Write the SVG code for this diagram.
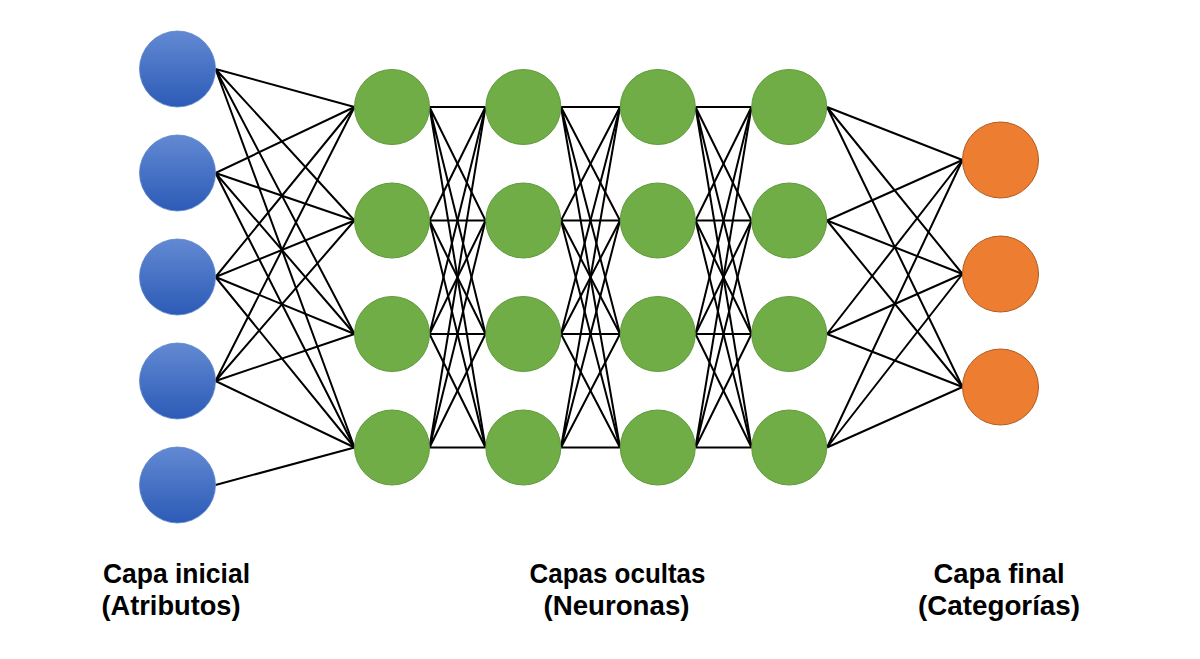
<svg xmlns="http://www.w3.org/2000/svg" width="1200" height="659" viewBox="0 0 1200 659">
<defs>
<linearGradient id="blueGrad" x1="0" y1="0" x2="0" y2="1">
<stop offset="0" stop-color="#6289d2"/>
<stop offset="1" stop-color="#2c5bb7"/>
</linearGradient>
<style>
.edge{stroke:#000;stroke-width:2;fill:none}
.in{fill:url(#blueGrad);stroke:#5b83cc;stroke-width:0.8}
.hid{fill:#70ad47;stroke:#5e9a3a;stroke-width:1}
.out{fill:#ed7d31;stroke:#ae5a21;stroke-width:1}
.lbl{font-family:"Liberation Sans",Arial,sans-serif;font-weight:bold;font-size:28px;fill:#000;text-anchor:middle}
</style>
</defs>
<rect width="1200" height="659" fill="#fff"/>
<g id="connectors">
<!-- input to hidden 1 -->
<path class="edge" d="M215.5 69L354.5 107M215.5 69L354.5 220.5M215.5 69L354.5 334M215.5 69L354.5 447.5"/>
<path class="edge" d="M215.5 173L354.5 107M215.5 173L354.5 220.5M215.5 173L354.5 334M215.5 173L354.5 447.5"/>
<path class="edge" d="M215.5 277L354.5 107M215.5 277L354.5 220.5M215.5 277L354.5 334M215.5 277L354.5 447.5"/>
<path class="edge" d="M215.5 381L354.5 107M215.5 381L354.5 220.5M215.5 381L354.5 334M215.5 381L354.5 447.5"/>
<path class="edge" d="M215.5 485L354.5 447.5"/>
<!-- hidden 1 to hidden 2 -->
<path class="edge" d="M429.5 107L485.5 107M429.5 107L485.5 220.5M429.5 107L485.5 334M429.5 107L485.5 447.5"/>
<path class="edge" d="M429.5 220.5L485.5 107M429.5 220.5L485.5 220.5M429.5 220.5L485.5 334M429.5 220.5L485.5 447.5"/>
<path class="edge" d="M429.5 334L485.5 107M429.5 334L485.5 220.5M429.5 334L485.5 334M429.5 334L485.5 447.5"/>
<path class="edge" d="M429.5 447.5L485.5 107M429.5 447.5L485.5 220.5M429.5 447.5L485.5 334M429.5 447.5L485.5 447.5"/>
<!-- hidden 2 to hidden 3 -->
<path class="edge" d="M561 107L620 107M561 107L620 220.5M561 107L620 334M561 107L620 447.5"/>
<path class="edge" d="M561 220.5L620 107M561 220.5L620 220.5M561 220.5L620 334M561 220.5L620 447.5"/>
<path class="edge" d="M561 334L620 107M561 334L620 220.5M561 334L620 334M561 334L620 447.5"/>
<path class="edge" d="M561 447.5L620 107M561 447.5L620 220.5M561 447.5L620 334M561 447.5L620 447.5"/>
<!-- hidden 3 to hidden 4 -->
<path class="edge" d="M695.5 107L751.5 107M695.5 107L751.5 220.5M695.5 107L751.5 334M695.5 107L751.5 447.5"/>
<path class="edge" d="M695.5 220.5L751.5 107M695.5 220.5L751.5 220.5M695.5 220.5L751.5 334M695.5 220.5L751.5 447.5"/>
<path class="edge" d="M695.5 334L751.5 107M695.5 334L751.5 220.5M695.5 334L751.5 334M695.5 334L751.5 447.5"/>
<path class="edge" d="M695.5 447.5L751.5 107M695.5 447.5L751.5 220.5M695.5 447.5L751.5 334M695.5 447.5L751.5 447.5"/>
<!-- hidden 4 to output -->
<path class="edge" d="M827 107L962.5 160M827 107L962.5 274M827 107L962.5 387"/>
<path class="edge" d="M827 220.5L962.5 160M827 220.5L962.5 274M827 220.5L962.5 387"/>
<path class="edge" d="M827 334L962.5 160M827 334L962.5 274M827 334L962.5 387"/>
<path class="edge" d="M827 447.5L962.5 160M827 447.5L962.5 274M827 447.5L962.5 387"/>
</g>
<g id="input-layer">
<g id="in1"><circle class="in" cx="177.5" cy="69" r="38"/></g>
<g id="in2"><circle class="in" cx="177.5" cy="173" r="38"/></g>
<g id="in3"><circle class="in" cx="177.5" cy="277" r="38"/></g>
<g id="in4"><circle class="in" cx="177.5" cy="381" r="38"/></g>
<g id="in5"><circle class="in" cx="177.5" cy="485" r="38"/></g>
</g>
<g id="hidden-1">
<g id="h1n1"><circle class="hid" cx="392" cy="107" r="37.5"/></g>
<g id="h1n2"><circle class="hid" cx="392" cy="220.5" r="37.5"/></g>
<g id="h1n3"><circle class="hid" cx="392" cy="334" r="37.5"/></g>
<g id="h1n4"><circle class="hid" cx="392" cy="447.5" r="37.5"/></g>
</g>
<g id="hidden-2">
<g id="h2n1"><circle class="hid" cx="523.3" cy="107" r="37.5"/></g>
<g id="h2n2"><circle class="hid" cx="523.3" cy="220.5" r="37.5"/></g>
<g id="h2n3"><circle class="hid" cx="523.3" cy="334" r="37.5"/></g>
<g id="h2n4"><circle class="hid" cx="523.3" cy="447.5" r="37.5"/></g>
</g>
<g id="hidden-3">
<g id="h3n1"><circle class="hid" cx="657.8" cy="107" r="37.5"/></g>
<g id="h3n2"><circle class="hid" cx="657.8" cy="220.5" r="37.5"/></g>
<g id="h3n3"><circle class="hid" cx="657.8" cy="334" r="37.5"/></g>
<g id="h3n4"><circle class="hid" cx="657.8" cy="447.5" r="37.5"/></g>
</g>
<g id="hidden-4">
<g id="h4n1"><circle class="hid" cx="789.2" cy="107" r="37.5"/></g>
<g id="h4n2"><circle class="hid" cx="789.2" cy="220.5" r="37.5"/></g>
<g id="h4n3"><circle class="hid" cx="789.2" cy="334" r="37.5"/></g>
<g id="h4n4"><circle class="hid" cx="789.2" cy="447.5" r="37.5"/></g>
</g>
<g id="output-layer">
<g id="out1"><circle class="out" cx="1000.5" cy="160" r="38"/></g>
<g id="out2"><circle class="out" cx="1000.5" cy="274" r="38"/></g>
<g id="out3"><circle class="out" cx="1000.5" cy="387" r="38"/></g>
</g>
<g id="labels">
<text class="lbl" x="176.5" y="583" textLength="147" lengthAdjust="spacingAndGlyphs">Capa inicial</text>
<text class="lbl" x="171" y="615" textLength="139" lengthAdjust="spacingAndGlyphs">(Atributos)</text>
<text class="lbl" x="617.5" y="583" textLength="176" lengthAdjust="spacingAndGlyphs">Capas ocultas</text>
<text class="lbl" x="616.5" y="615" textLength="146" lengthAdjust="spacingAndGlyphs">(Neuronas)</text>
<text class="lbl" x="999" y="583" textLength="131" lengthAdjust="spacingAndGlyphs">Capa final</text>
<text class="lbl" x="999" y="615" textLength="162" lengthAdjust="spacingAndGlyphs">(Categorías)</text>
</g>
</svg>
